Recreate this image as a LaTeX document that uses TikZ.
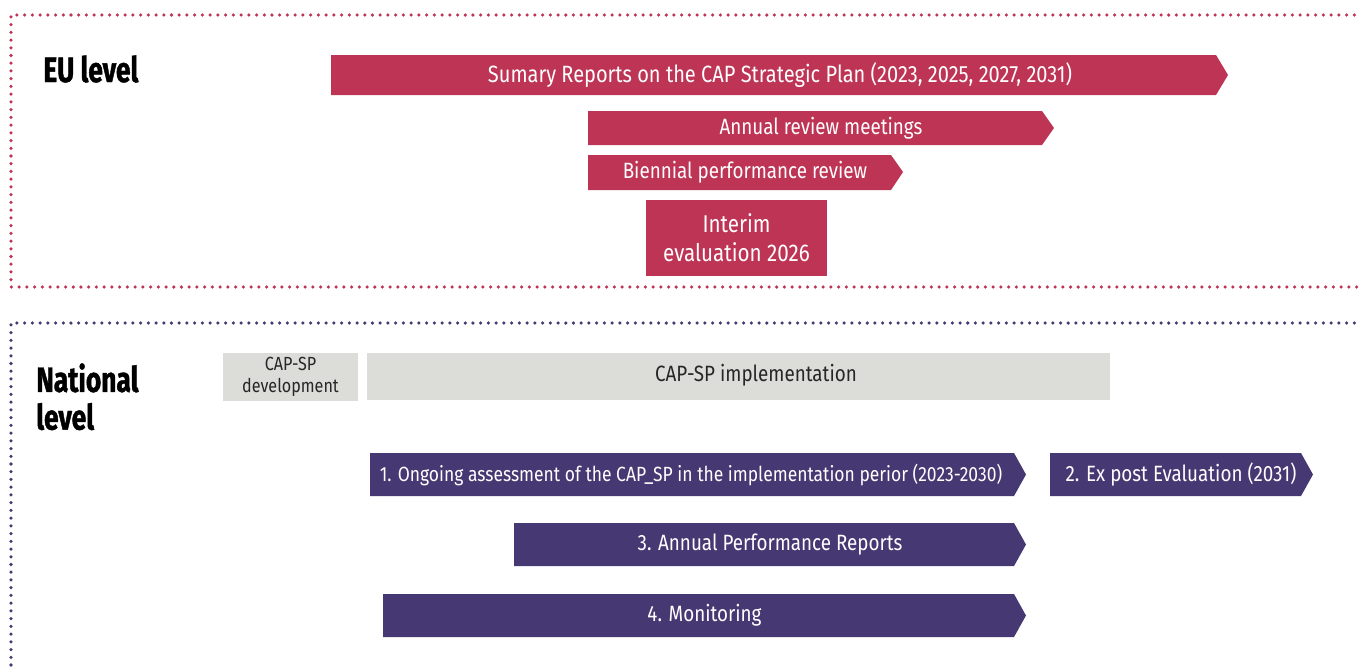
\documentclass[tikz,border=0pt]{standalone}
\usepackage{fontspec}
\setmainfont[FakeStretch=0.85]{Fira Sans}
\newfontfamily\headfont[FakeStretch=0.75,FakeBold=1.2]{Fira Sans}
\usetikzlibrary{positioning}
\definecolor{cap_red}{HTML}{BE3455}
\definecolor{cap_purple}{HTML}{463872}
\definecolor{cap_grey}{HTML}{DCDDD8}

\begin{document}
\begin{tikzpicture}[x=0.02cm, y=-0.02cm,
    dotline/.style={line width=2pt, line cap=round, dash pattern=on 0pt off 4.4pt},
    levelname/.style={font=\headfont\bfseries\fontsize{20}{21.5}\selectfont, align=left, anchor=north west, inner sep=0pt},
    bartext/.style={text=white, font=\fontsize{12.6}{14}\selectfont, inner sep=0pt},
    greytext/.style={text=black!85, inner sep=0pt, align=center}]
  \useasboundingbox (0,0) rectangle (1360,670);
  % Frames of the two levels
  \draw[dotline, cap_red] (1362,15) -- (11,15) -- (11,287) -- (1362,287);
  \draw[dotline, cap_purple] (1362,323) -- (11,323) -- (11,672);
  \node[levelname] (eu) at (43,55) {EU level};
  \node[levelname] (national) at (36,363) {National\\level};

  % EU level
  \fill[cap_red] (331,55) -- (1216,55) -- (1228,75) -- (1216,95) -- (331,95) -- cycle;
  \node[bartext, font=\fontsize{13.4}{15}\selectfont] (summary) at (780,75) {Sumary Reports on the CAP Strategic Plan (2023, 2025, 2027, 2031)};
  \fill[cap_red] (588,111) -- (1042,111) -- (1054,128) -- (1042,145) -- (588,145) -- cycle;
  \node[bartext] (annual) at (821,128) {Annual review meetings};
  \fill[cap_red] (588,155) -- (891,155) -- (903,172) -- (891,190) -- (588,190) -- cycle;
  \node[bartext] (biennial) at (745,172) {Biennial performance review};
  \fill[cap_red] (646,200) rectangle (827,276);
  \node[bartext, align=center, font=\fontsize{13.8}{16.5}\selectfont] (interim) at (736.5,238) {Interim\\evaluation 2026};

  % National level
  \fill[cap_grey] (223,353) rectangle (358,401);
  \node[greytext, font=\fontsize{10.8}{12.5}\selectfont] (dev) at (290.5,377) {CAP-SP\\development};
  \fill[cap_grey] (367,353) rectangle (1110,400);
  \node[greytext, font=\fontsize{12.6}{14}\selectfont] (impl) at (756,375) {CAP-SP implementation};
  \fill[cap_purple] (370,453) -- (1014,453) -- (1026,474.5) -- (1014,496) -- (370,496) -- cycle;
  \node[bartext, font=\fontsize{11.7}{13}\selectfont] (ongoing) at (691,474.5) {1. Ongoing assessment of the CAP\_SP in the implementation perior (2023-2030)};
  \fill[cap_purple] (1050,453) -- (1301,453) -- (1313,474.5) -- (1301,496) -- (1050,496) -- cycle;
  \node[bartext] (expost) at (1181,474.5) {2. Ex post Evaluation (2031)};
  \fill[cap_purple] (514,523) -- (1014,523) -- (1026,544.5) -- (1014,566) -- (514,566) -- cycle;
  \node[bartext] (apr) at (770,544.5) {3. Annual Performance Reports};
  \fill[cap_purple] (383,594) -- (1014,594) -- (1026,615.5) -- (1014,637) -- (383,637) -- cycle;
  \node[bartext] (monitoring) at (704.5,615.5) {4. Monitoring};
\end{tikzpicture}
\end{document}
